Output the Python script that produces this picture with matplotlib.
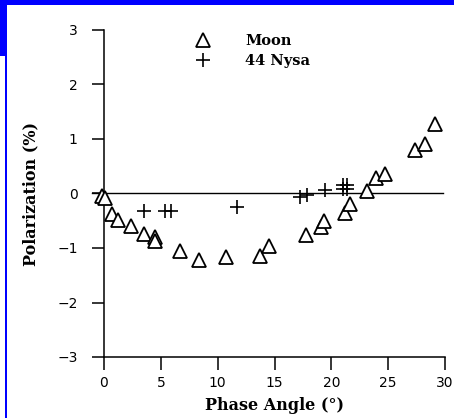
import matplotlib
matplotlib.use("Agg")
import matplotlib.pyplot as plt
from matplotlib.patches import Rectangle

# Moon polarization vs phase angle
moon_phase = [-0.2, 0.1, 0.7, 1.25, 2.4, 3.55, 4.5, 4.45, 6.7, 8.4, 10.7, 13.75,
              14.5, 17.8, 19.1, 19.35, 21.2, 21.65, 23.15, 23.95, 24.75, 27.4,
              28.2, 29.1]
moon_pol = [-0.04, -0.09, -0.37, -0.49, -0.59, -0.74, -0.80, -0.87, -1.05,
            -1.22, -1.16, -1.15, -0.96, -0.77, -0.62, -0.51, -0.35, -0.20,
            0.05, 0.29, 0.35, 0.79, 0.90, 1.27]

# 44 Nysa
nysa_phase = [3.55, 5.4, 5.9, 11.7, 17.25, 17.85, 19.4, 21.03, 21.38, 21.03, 21.38]
nysa_pol = [-0.32, -0.32, -0.32, -0.25, -0.07, -0.02, 0.07, 0.16, 0.16, 0.08, 0.08]

x_ticks = [0, 5, 10, 15, 20, 25, 30]
y_ticks = [-3, -2, -1, 0, 1, 2, 3]

W, H = 454, 418
fig = plt.figure(figsize=(W / 100, H / 100), dpi=100)
ax = fig.add_axes([104 / W, (H - 357) / H, (445 - 104) / W, (357 - 30) / H])

label_font = {"family": "DejaVu Serif", "weight": "bold", "size": 11.5}

ax.plot(moon_phase, moon_pol, linestyle="none", marker="^", ms=10,
        mfc="white", mec="black", mew=1.3, clip_on=False, label="Moon", zorder=3)
ax.plot(nysa_phase, nysa_pol, linestyle="none", marker="+", ms=10,
        mec="black", mew=1.2, clip_on=False, label="44 Nysa", zorder=3)

ax.axhline(0, xmin=-0.035, xmax=0.995, color="black", lw=1.0, clip_on=False, zorder=2)

ax.set_xlim(0, 30)
ax.set_ylim(-3, 3)
ax.set_xticks(x_ticks)
ax.set_yticks(y_ticks)
ax.set_xticklabels([str(t) for t in x_ticks])
ax.set_yticklabels([str(t).replace("-", "\u2212") for t in y_ticks])

for s in ["top", "right"]:
    ax.spines[s].set_visible(False)
for s in ["left", "bottom"]:
    ax.spines[s].set_linewidth(1.1)
ax.tick_params(axis="both", direction="out", length=9, width=1.1,
               labelsize=10, colors="black")
ax.tick_params(axis="y", pad=10)
ax.tick_params(axis="x", pad=5)

ax.set_xlabel("Phase Angle (\u00b0)", fontdict=label_font, labelpad=5)
ax.set_ylabel("Polarization (%)", fontdict=label_font, labelpad=13)

ax.legend(loc="upper left", bbox_to_anchor=(0.226, 1.028), frameon=False,
          handlelength=1.2, handletextpad=2.3, labelspacing=0.4,
          prop={"family": "DejaVu Serif", "weight": "bold", "size": 10.5})

# blue frame strips along the top and left edges
fig.patches.append(Rectangle((0, H - 5), W, 5, transform=None,
                             facecolor="#0000ff", edgecolor="none"))
fig.patches.append(Rectangle((0, H - 56), 7, 56, transform=None,
                             facecolor="#0000ff", edgecolor="none"))
fig.patches.append(Rectangle((5, 0), 2, H, transform=None,
                             facecolor="#0000ff", edgecolor="none"))

fig.savefig("out.png", dpi=100)
